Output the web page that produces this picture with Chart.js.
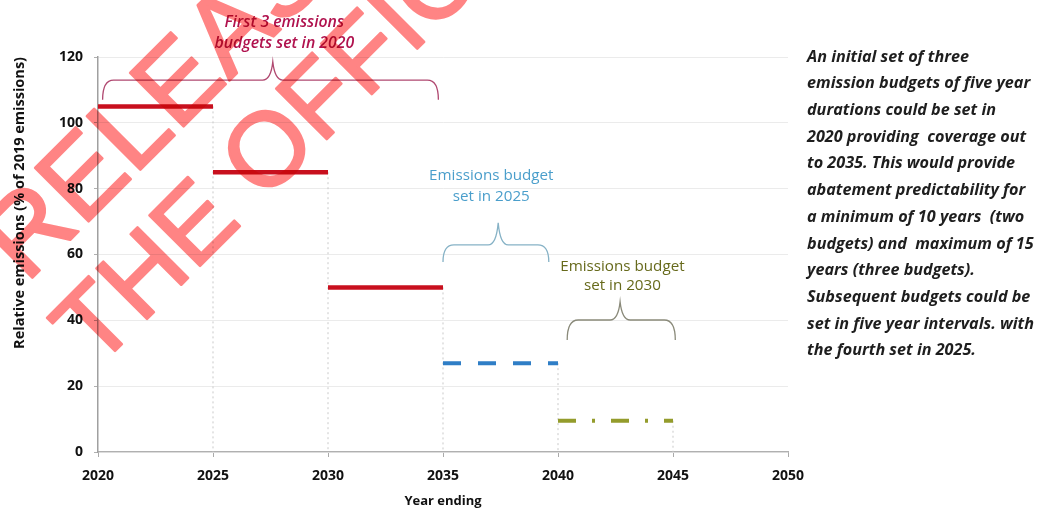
<!DOCTYPE html>
<html>
<head>
<meta charset="utf-8">
<script src="https://cdn.jsdelivr.net/npm/chart.js@4.4.1/dist/chart.umd.min.js"></script>
<style>
  html, body { margin: 0; padding: 0; background: #ffffff; }
  #wrap { width: 1040px; height: 511px; position: relative; }
</style>
</head>
<body>
<div id="wrap"><canvas id="c" width="1040" height="511"></canvas></div>
<script>
// ---- data ----
const budgetStart = [2020, 2025, 2030, 2035, 2040];
const budgetEnd   = [2025, 2030, 2035, 2040, 2045];
const budgetLevel = [105, 85, 50, 27, 9.5];
const budgetGroup = ['2020', '2020', '2020', '2025', '2030'];
const xTickValues = [2020, 2025, 2030, 2035, 2040, 2045, 2050];
const yTickValues = [0, 20, 40, 60, 80, 100, 120];

const braceLabels = [
  { lines: ['First 3 emissions', 'budgets set in 2020'], x: 2028.1, y: [130.6, 124.2] },
  { lines: ['Emissions budget', 'set in 2025'], x: 2037.1, y: [83.8, 77.5] },
  { lines: ['Emissions budget', 'set in 2030'], x: 2042.8, y: [56.2, 50.4] }
];
const braces = [
  { x0: 2020.2, x1: 2034.8, tip: 2027.6, yH: 113, yEnd: 107, yTip: 118.5 },
  { x0: 2035.0, x1: 2039.6, tip: 2037.4, yH: 62.9, yEnd: 57.7, yTip: 69.6 },
  { x0: 2040.4, x1: 2045.1, tip: 2042.7, yH: 40.1, yEnd: 34.0, yTip: 45.6 }
];
const sideText = [
  'An initial set of three',
  'emission budgets of five year',
  'durations could be set in',
  '2020 providing  coverage out',
  'to 2035. This would provide',
  'abatement predictability for',
  'a minimum of 10 years  (two',
  'budgets) and  maximum of 15',
  'years (three budgets).',
  'Subsequent budgets could be',
  'set in five year intervals. with',
  'the fourth set in 2025.'
];
const watermarkLines = ['RELEASED UNDER', 'THE OFFICIAL INFORMATION ACT'];

// ---- styles ----
const groupStyle = {
  '2020': { color: '#c8101e', dash: [], width: 4.5 },
  '2025': { color: '#2f7ec6', dash: [18, 17], width: 4 },
  '2030': { color: '#949c2c', dash: [18, 16, 3, 16], width: 4 }
};
const braceColors = ['#b04870', '#86b2c6', '#8a8a7a'];
const labelStyles = [
  { color: '#b0124e', font: 'italic 600 15.8px "Open Sans"' },
  { color: '#4a9ecb', font: '15.2px "Open Sans"' },
  { color: '#676a1c', font: '15.2px "Open Sans"' }
];

const datasets = [];
// drop lines
for (let i = 0; i < budgetEnd.length; i++) {
  datasets.push({
    data: [{ x: budgetEnd[i], y: budgetLevel[i] }, { x: budgetEnd[i], y: 0 }],
    showLine: true, borderColor: '#c9c9c9', borderWidth: 1, borderDash: [2, 3],
    pointRadius: 0, order: 5
  });
}
for (let i = 0; i < budgetStart.length; i++) {
  const s = groupStyle[budgetGroup[i]];
  datasets.push({
    label: 'Budget ' + (i + 1),
    data: [{ x: budgetStart[i], y: budgetLevel[i] }, { x: budgetEnd[i], y: budgetLevel[i] }],
    showLine: true, borderColor: s.color, borderWidth: s.width, borderDash: s.dash,
    borderCapStyle: 'butt', pointRadius: 0, order: 1
  });
}

function drawBrace(ctx, x0, x1, xt, yH, yE, yT) {
  const r = 11, r2 = 10;
  ctx.beginPath();
  ctx.moveTo(x0, yE);
  ctx.quadraticCurveTo(x0, yH, x0 + r, yH);
  ctx.lineTo(xt - r2, yH);
  ctx.quadraticCurveTo(xt - 2, yH, xt, yT);
  ctx.quadraticCurveTo(xt + 2, yH, xt + r2, yH);
  ctx.lineTo(x1 - r, yH);
  ctx.quadraticCurveTo(x1, yH, x1, yE);
  ctx.stroke();
}

const annotate = {
  id: 'annotate',
  afterDraw(chart) {
    const ctx = chart.ctx;
    const xs = chart.scales.x, ys = chart.scales.y;
    ctx.save();
    // braces
    braces.forEach((b, i) => {
      ctx.strokeStyle = braceColors[i];
      ctx.lineWidth = 1.3;
      drawBrace(ctx, xs.getPixelForValue(b.x0), xs.getPixelForValue(b.x1), xs.getPixelForValue(b.tip),
        ys.getPixelForValue(b.yH), ys.getPixelForValue(b.yEnd), ys.getPixelForValue(b.yTip));
    });
    // brace labels
    ctx.textAlign = 'center';
    ctx.textBaseline = 'middle';
    braceLabels.forEach((l, i) => {
      ctx.fillStyle = labelStyles[i].color;
      ctx.font = labelStyles[i].font;
      l.lines.forEach((t, k) => ctx.fillText(t, xs.getPixelForValue(l.x), ys.getPixelForValue(l.y[k])));
    });
    // side paragraph
    ctx.textAlign = 'left';
    ctx.fillStyle = '#1e1e1e';
    ctx.font = 'italic bold 16.2px "Open Sans"';
    sideText.forEach((t, k) => ctx.fillText(t, 807, 57 + k * 26.7));
    ctx.restore();

    // watermark: drawn opaque on a layer, then multiplied over the chart
    const layer = document.createElement('canvas');
    layer.width = chart.width; layer.height = chart.height;
    const w = layer.getContext('2d');
    w.fillStyle = 'rgb(255, 132, 132)';
    w.strokeStyle = 'rgb(255, 132, 132)';
    w.lineWidth = 2.5;
    w.lineJoin = 'round';
    w.textAlign = 'left';
    w.textBaseline = 'alphabetic';
    const starts = [[26, 284], [96, 370]];
    const sizes = [110, 104];
    watermarkLines.forEach((t, k) => {
      w.save();
      w.font = sizes[k] + 'px "Liberation Sans"';
      w.translate(starts[k][0], starts[k][1]);
      w.rotate(-Math.PI / 4);
      w.fillText(t, 0, 0);
      w.strokeText(t, 0, 0);
      w.restore();
    });
    ctx.save();
    ctx.globalCompositeOperation = 'multiply';
    ctx.drawImage(layer, 0, 0);
    ctx.restore();
  }
};

new Chart(document.getElementById('c'), {
  type: 'scatter',
  data: { datasets },
  plugins: [annotate],
  options: {
    responsive: false,
    animation: false,
    devicePixelRatio: 1,
    layout: { padding: { left: 0, right: 252, top: 57, bottom: 0 } },
    plugins: { legend: { display: false }, tooltip: { enabled: false } },
    scales: {
      x: {
        type: 'linear', min: 2020, max: 2050,
        afterBuildTicks: (s) => { s.ticks = xTickValues.map(v => ({ value: v })); },
        afterFit: (s) => { s.height = 59; },
        ticks: { color: '#111', font: { family: 'Open Sans', weight: 'bold', size: 14 }, padding: 11,
          callback: (v) => String(v), maxRotation: 0 },
        grid: { drawOnChartArea: false, drawTicks: true, tickLength: 5, tickColor: '#aaaaaa' },
        border: { color: '#b0b0b0', width: 1.2 },
        title: { display: true, text: 'Year ending', color: '#111',
          font: { family: 'Open Sans', weight: 'bold', size: 13 }, padding: { top: 2, bottom: 2 } }
      },
      y: {
        type: 'linear', min: 0, max: 120,
        afterBuildTicks: (s) => { s.ticks = yTickValues.map(v => ({ value: v })); },
        afterFit: (s) => { s.width = 98; },
        ticks: { color: '#111', font: { family: 'Open Sans', weight: 'bold', size: 14 }, padding: 11 },
        grid: { color: '#ebebeb', lineWidth: 1, tickLength: 4, tickColor: '#b0b0b0' },
        border: { color: '#a0a0a0', width: 1.5 },
        title: { display: true, text: 'Relative emissions (% of 2019 emissions)', align: 'end', color: '#111',
          font: { family: 'Open Sans', weight: 'bold', size: 14.5 }, padding: { top: 11, bottom: 0 } }
      }
    }
  }
});
</script>
</body>
</html>
